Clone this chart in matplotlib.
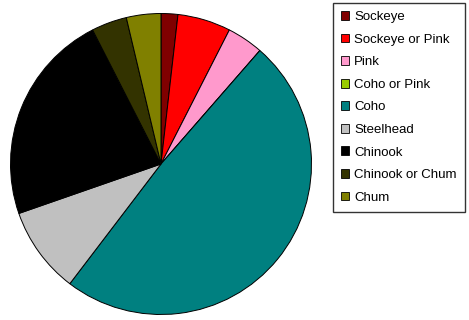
import matplotlib.pyplot as plt

# salmon species share of the catch
species = ['Sockeye', 'Sockeye or Pink', 'Pink', 'Coho or Pink', 'Coho',
           'Steelhead', 'Chinook', 'Chinook or Chum', 'Chum']
share = [1.8, 5.7, 3.9, 0.0, 48.9, 9.3, 22.8, 3.8, 3.7]
colors = ['#800000', '#FF0000', '#FF99CC', '#99CC00', '#008080',
          '#C0C0C0', '#000000', '#333300', '#808000']

plt.rcParams['font.family'] = ['Liberation Sans', 'DejaVu Sans']

fig = plt.figure(figsize=(4.69, 3.2), dpi=100)
ax = fig.add_axes([9 / 469, 4 / 320, 304 / 469, 304 / 320])

wedges, _ = ax.pie(share, colors=colors, startangle=90, counterclock=False,
                   wedgeprops=dict(edgecolor='black', linewidth=0.7))
ax.set_xlim(-1.01, 1.01)
ax.set_ylim(-1.01, 1.01)
ax.set_aspect('equal')

leg = fig.legend(wedges, species, loc='upper left',
                 bbox_to_anchor=(333 / 469, 1 - 3 / 320),
                 fontsize=9.5, frameon=True, fancybox=False,
                 edgecolor='black', handlelength=0.65, handleheight=0.65,
                 handletextpad=0.35, labelspacing=0.8, borderpad=0.6,
                 borderaxespad=0)
leg.get_frame().set_linewidth(1.0)
for h in leg.legend_handles:
    h.set_edgecolor('black')
    h.set_linewidth(0.6)

plt.savefig('out.png', dpi=100)
